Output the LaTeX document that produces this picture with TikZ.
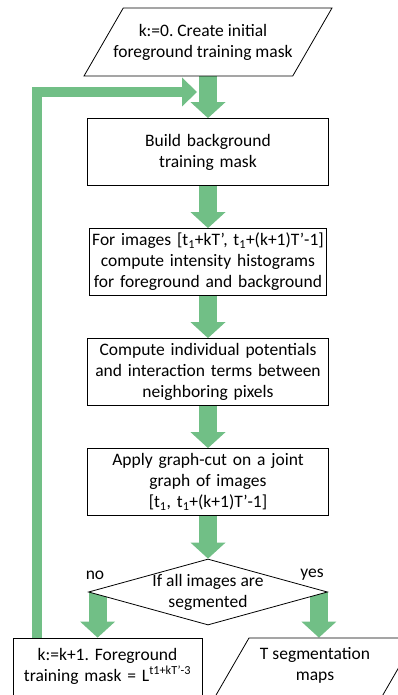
\documentclass[tikz,border=0pt]{standalone}
\usepackage{fontspec}
\setmainfont{Carlito}
\usetikzlibrary{shapes.geometric, arrows.meta, positioning, backgrounds}
\definecolor{flowgreen}{RGB}{113,191,134}
\tikzstyle{process} = [rectangle, draw, line width=0.8pt, fill=white, text width=236pt, inner xsep=2.5pt, minimum height=67pt, align=center]
\tikzstyle{io} = [trapezium, trapezium left angle=60, trapezium right angle=120, trapezium stretches body=true, draw, line width=0.8pt, fill=white, inner xsep=0pt, inner ysep=34pt, minimum width=248pt]
\tikzstyle{decision} = [diamond, draw, line width=0.8pt, fill=white, minimum width=239pt, minimum height=66pt, inner sep=0pt]
\tikzstyle{caption} = [align=center]
\tikzstyle{flow} = [line width=18pt, draw=flowgreen, -{Triangle[width=35pt,length=16pt,line width=0pt]}]
\tikzstyle{loopback} = [line width=10pt, draw=flowgreen, -{Triangle[width=29pt,length=15pt,line width=0pt]}]

\begin{document}
\frenchspacing
\begin{tikzpicture}[x=1pt, y=-1pt, node distance=110pt, on grid, font=\fontsize{17.5pt}{21pt}\selectfont]
    \useasboundingbox (0,0) rectangle (398,695);
    \clip (0,0) rectangle (398,695);

    \node (start) [io] at (208,42) {};
    \node (starttext) [caption] at (203,42.5) {k:=0. Create initial\\foreground training mask};
    \node (build) [process, below=of start] {Build background\\training mask};
    \node (hist) [process, text width=232pt, below=of build] {For images [t\textsubscript{1}+kT’, t\textsubscript{1}+(k+1)T’-1]\\compute intensity histograms\\for foreground and background};
    \node (terms) [process, below=of hist] {Compute individual potentials\\and interaction terms between\\neighboring pixels};
    \node (cut) [process, below=of terms] {Apply graph-cut on a joint\\graph of images\\{[}t\textsubscript{1}, t\textsubscript{1}+(k+1)T’-1{]}};
    \node (cond) [decision, below=of cut] {};
    \node (condtext) [caption] at (cond) {If all images are\\segmented};

    \node (next) [process, text width=184pt, minimum height=74pt] at (107.5,675) {k:=k+1. Foreground\\training mask = L\textsuperscript{t1+kT’-3}\\\mbox{}};
    \node (out) [io, inner ysep=37pt, minimum width=209.5pt] at (311,675) {};
    \node (outtext) [caption] at (315,665) {T segmentation\\maps};

    \node (no) at (95,575) {no};
    \node (yes) at (312,575) {yes};

    % Edges
    \begin{scope}[on background layer]
    \draw[flow] (start) -- (build);
    \draw[flow] (build) -- (hist);
    \draw[flow] (hist) -- (terms);
    \draw[flow] (terms) -- (cut);
    \draw[flow] (cut) -- (cond);
    \draw[flow] ([xshift=9.5pt]cond.west) -- ([xshift=9.5pt]cond.west |- next.north);
    \draw[flow] ([xshift=-9pt]cond.east) -- ([xshift=-9pt]cond.east |- out.north);

    % back to the start of the loop
    \coordinate (corner) at (37,92);
    \coordinate (reentry) at (197,92);
    \draw[loopback] (next.north -| corner) -- (corner) -- (reentry);
    \end{scope}
\end{tikzpicture}
\end{document}
